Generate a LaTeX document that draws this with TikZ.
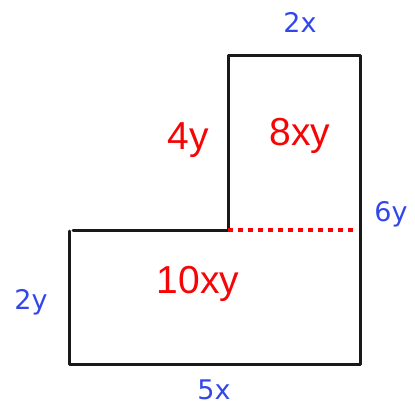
\documentclass[tikz,border=0pt]{standalone}
\usepackage{fontspec}
\setmainfont{Liberation Sans}
\newfontfamily\sidefont{DejaVu Sans}
\usepackage{tikz}
\usetikzlibrary{positioning}
\definecolor{SideBlue}{RGB}{50,70,235}
\definecolor{AreaRed}{RGB}{245,5,5}
\tikzset{
  sidelbl/.style={font=\sidefont\fontsize{27}{27}\selectfont, SideBlue, inner sep=0pt},
  arealbl/.style={font=\fontsize{39}{39}\selectfont, AreaRed, inner sep=0pt},
  outline/.style={line width=3pt, line cap=round, line join=round, black!90}
}
\begin{document}
\begin{tikzpicture}[x=1pt, y=-1pt]
  \useasboundingbox (0,0) rectangle (415,413);
  % ---- corners of the L ----
  \coordinate (ll) at (69,231);
  \coordinate (lm) at (73,230);
  \coordinate (mid) at (228,230);
  \coordinate (tl) at (228,55);
  \coordinate (tr) at (360,55);
  \coordinate (rm) at (357,230);
  \coordinate (br) at (360,364);
  \coordinate (bl) at (69,364);
  % outline
  \draw[outline] (lm) -- (mid) -- (tl) -- (tr) -- (br) -- (bl) -- (ll);
  % split line
  \draw[AreaRed, line width=4.5pt, dash pattern=on 5pt off 5pt] (mid) -- (rm);
  % side lengths
  \node[sidelbl] (top) at (300,22) {2x};
  \node[sidelbl] (right) at (391,214) {6y};
  \node[sidelbl] (left) at (31,302) {2y};
  \node[sidelbl] (bottom) at (214,390) {5x};
  % inner height and areas
  \node[arealbl] (inner) at (188,140) {4y};
  \node[arealbl] (upper) at (300,136) {8xy};
  \node[arealbl] (lower) at (198,284) {10xy};
\end{tikzpicture}
\end{document}
